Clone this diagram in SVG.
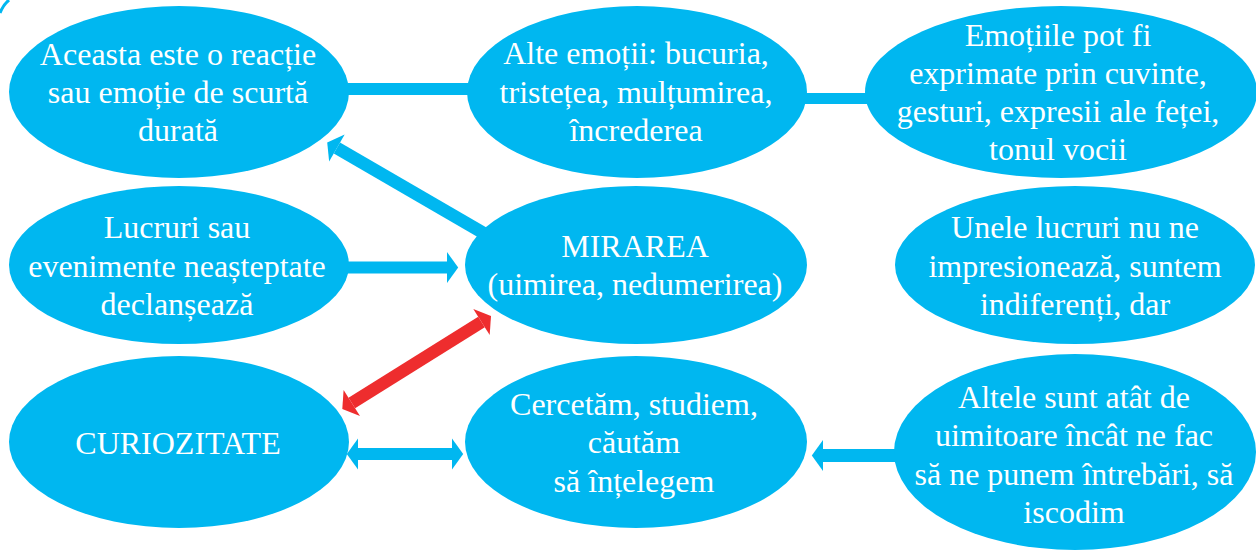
<svg xmlns="http://www.w3.org/2000/svg" width="1256" height="551" viewBox="0 0 1256 551">
<defs>
<style>
.n{fill:#00B7F0}
.t{font-family:"Liberation Serif","Times New Roman",serif;font-size:32px;fill:#fff;text-anchor:middle}
.c{stroke:#00B7F0;stroke-width:12;fill:none}
.r{stroke:#EE2D2E;stroke-width:12.5;fill:none}
</style>
<marker id="hb" markerUnits="userSpaceOnUse" markerWidth="12" markerHeight="32" viewBox="0 -15 11 30" refX="0" refY="0" orient="auto-start-reverse" overflow="visible">
<path d="M0,-14.5 L10.5,0 L0,14.5 Z" fill="#00B7F0"/>
</marker>
<marker id="hr" markerUnits="userSpaceOnUse" markerWidth="12" markerHeight="32" viewBox="0 -15 11 30" refX="0" refY="0" orient="auto-start-reverse" overflow="visible">
<path d="M0,-14.5 L10.5,0 L0,14.5 Z" fill="#EE2D2E"/>
</marker>
</defs>
<rect width="1256" height="551" fill="#fff"/>
<g id="connectors">
<path class="c" d="M0,13 Q3,5 9,0" style="stroke-width:3"/>
<line class="c" x1="330" y1="89" x2="480" y2="89"/>
<line class="c" x1="795" y1="98.5" x2="875" y2="98.5" style="stroke-width:11"/>
<line class="c" x1="492" y1="238" x2="336.9" y2="148" marker-end="url(#hb)" style="stroke-width:12.5"/>
<line class="c" x1="335" y1="267.5" x2="447" y2="267.5" marker-end="url(#hb)"/>
<line class="r" x1="351.8" y1="403" x2="481.5" y2="322" marker-start="url(#hr)" marker-end="url(#hr)"/>
<line class="c" x1="358" y1="454" x2="452" y2="454" marker-start="url(#hb)" marker-end="url(#hb)"/>
<line class="c" x1="905" y1="455.5" x2="823" y2="455.5" marker-end="url(#hb)" style="stroke-width:13"/>
</g>
<g id="n1"><ellipse class="n" cx="179" cy="92" rx="170" ry="86"/>
<text class="t" x="178" y="65">Aceasta este o reacție</text>
<text class="t" x="178" y="103">sau emoție de scurtă</text>
<text class="t" x="178" y="141">durată</text></g>
<g id="n2"><ellipse class="n" cx="637" cy="92" rx="170" ry="86"/>
<text class="t" x="636" y="64">Alte emoții: bucuria,</text>
<text class="t" x="636" y="103">tristețea, mulțumirea,</text>
<text class="t" x="636" y="141">încrederea</text></g>
<g id="n3"><ellipse class="n" cx="1061" cy="92" rx="196" ry="86"/>
<text class="t" x="1058" y="46">Emoțiile pot fi</text>
<text class="t" x="1058" y="84">exprimate prin cuvinte,</text>
<text class="t" x="1058" y="122">gesturi, expresii ale feței,</text>
<text class="t" x="1058" y="160">tonul vocii</text></g>
<g id="n4"><ellipse class="n" cx="179" cy="265" rx="170" ry="79"/>
<text class="t" x="177" y="238">Lucruri sau</text>
<text class="t" x="177" y="277">evenimente neașteptate</text>
<text class="t" x="177" y="315">declanșează</text></g>
<g id="n5"><ellipse class="n" cx="636" cy="265" rx="171" ry="79"/>
<text class="t" x="635" y="257">MIRAREA</text>
<text class="t" x="635" y="295">(uimirea, nedumerirea)</text></g>
<g id="n6"><ellipse class="n" cx="1075" cy="265" rx="180" ry="79"/>
<text class="t" x="1075" y="238">Unele lucruri nu ne</text>
<text class="t" x="1075" y="277">impresionează, suntem</text>
<text class="t" x="1075" y="315">indiferenți, dar</text></g>
<g id="n7"><ellipse class="n" cx="179" cy="442" rx="170" ry="86"/>
<text class="t" x="178" y="454">CURIOZITATE</text></g>
<g id="n8"><ellipse class="n" cx="636" cy="442" rx="171" ry="86"/>
<text class="t" x="634" y="415">Cercetăm, studiem,</text>
<text class="t" x="634" y="453">căutăm</text>
<text class="t" x="634" y="492">să înțelegem</text></g>
<g id="n9"><ellipse class="n" cx="1075" cy="452" rx="181" ry="98"/>
<text class="t" x="1074" y="408">Altele sunt atât de</text>
<text class="t" x="1074" y="446">uimitoare încât ne fac</text>
<text class="t" x="1074" y="485">să ne punem întrebări, să</text>
<text class="t" x="1074" y="523">iscodim</text></g>
</svg>
